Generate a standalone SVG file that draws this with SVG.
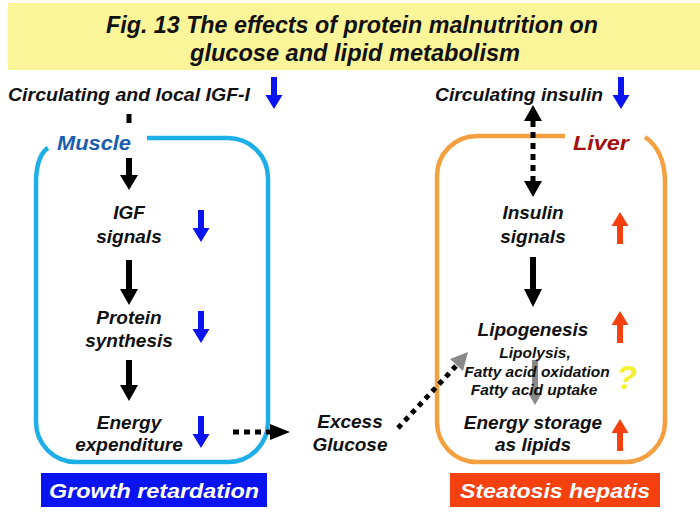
<svg xmlns="http://www.w3.org/2000/svg" xmlns:xlink="http://www.w3.org/1999/xlink" width="700" height="525" viewBox="0 0 700 525">
<style>
text{font-family:"Liberation Sans",Arial,sans-serif;font-weight:bold;font-style:italic;fill:#111;text-anchor:middle}
.t{font-size:19px}
.s{font-size:15.5px}
.title{font-size:24px}
.blue{fill:#0a14f0}
.red{fill:#f5400f}
.blk{fill:#000}
.dot{stroke:#000;stroke-width:5;fill:none;stroke-dasharray:6 5}
</style>
<defs>
<path id="bdown" d="M-3,0 H3 V18 H8.5 L0,32 L-8.5,18 H-3 Z"/>
<path id="rup" d="M-3,32 H3 V14 H8.5 L0,0 L-8.5,14 H-3 Z"/>
</defs>
<rect x="8" y="3" width="692" height="67" fill="#fbf59a"/>
<g id="title">
<text class="title" x="352" y="33" textLength="492" lengthAdjust="spacingAndGlyphs">Fig. 13 The effects of protein malnutrition on</text>
<text class="title" x="355" y="61" textLength="330" lengthAdjust="spacingAndGlyphs">glucose and lipid metabolism</text>
</g>
<g id="muscle-box">
<path d="M147,138 H228 A40,40 0 0 1 268,178 V422 A40,40 0 0 1 228,462 H76 A40,40 0 0 1 36,422 V180 Q37,155 48,148" fill="none" stroke="#1eaee8" stroke-width="4.5"/>
<text x="94" y="150" style="font-size:20px;fill:#1a5eb0" textLength="74" lengthAdjust="spacingAndGlyphs">Muscle</text>
</g>
<g id="liver-box">
<path d="M565,136 H477 A40,40 0 0 0 437,176 V422 A40,40 0 0 0 477,462 H625 A40,40 0 0 0 665,422 V180 Q664,150 645,137" fill="none" stroke="#f5a040" stroke-width="4.5"/>
<text x="601" y="150" style="font-size:20px;fill:#a01010" textLength="56" lengthAdjust="spacingAndGlyphs">Liver</text>
</g>
<g id="igf-circ">
<text class="t" x="129" y="101" textLength="242" lengthAdjust="spacingAndGlyphs">Circulating and local IGF-I</text>
<use xlink:href="#bdown" class="blue" x="274" y="77"/>
</g>
<g id="insulin-circ">
<text class="t" x="519" y="101" textLength="168" lengthAdjust="spacingAndGlyphs">Circulating insulin</text>
<use xlink:href="#bdown" class="blue" x="621" y="77"/>
</g>
<g id="igf-signals">
<text class="t" x="129" y="219">IGF</text>
<text class="t" x="129" y="243">signals</text>
<use xlink:href="#bdown" class="blue" x="201" y="210"/>
</g>
<g id="protein-synthesis">
<text class="t" x="129" y="324">Protein</text>
<text class="t" x="129" y="347">synthesis</text>
<use xlink:href="#bdown" class="blue" x="201" y="311"/>
</g>
<g id="energy-expenditure">
<text class="t" x="129" y="429">Energy</text>
<text class="t" x="129" y="451">expenditure</text>
<use xlink:href="#bdown" class="blue" x="201" y="416"/>
</g>
<g id="excess-glucose">
<text class="t" x="350" y="428">Excess</text>
<text class="t" x="350" y="451">Glucose</text>
</g>
<g id="insulin-signals">
<text class="t" x="533" y="219">Insulin</text>
<text class="t" x="533" y="243">signals</text>
<use xlink:href="#rup" class="red" x="620" y="212"/>
</g>
<g id="lipogenesis">
<text class="t" x="533" y="336">Lipogenesis</text>
<use xlink:href="#rup" class="red" x="620" y="311"/>
</g>
<g id="lipolysis">
<path d="M532,360 H538 V393 H542 L535,405 L528,393 H532 Z" fill="#8a8a8a"/>
<text class="s" x="535" y="358">Lipolysis,</text>
<text class="s" x="537" y="377">Fatty acid oxidation</text>
<text class="s" x="534" y="395">Fatty acid uptake</text>
<text x="627" y="389" style="font-size:34px;fill:#f5f030">?</text>
</g>
<g id="energy-storage">
<text class="t" x="533" y="429">Energy storage</text>
<text class="t" x="533" y="451">as lipids</text>
<use xlink:href="#rup" class="red" x="620" y="419"/>
</g>
<g id="growth-retardation">
<rect x="41" y="473" width="226" height="34" fill="#0a14f0"/>
<text x="154" y="498" style="font-size:21px;fill:#fff" textLength="210" lengthAdjust="spacingAndGlyphs">Growth retardation</text>
</g>
<g id="steatosis-hepatis">
<rect x="450" y="473" width="210" height="34" fill="#f5400f"/>
<text x="555" y="498" style="font-size:21px;fill:#fff" textLength="190" lengthAdjust="spacingAndGlyphs">Steatosis hepatis</text>
</g>
<g id="connectors">
<line x1="129" y1="114" x2="129" y2="123" stroke="#000" stroke-width="5"/>
<path class="blk" d="M126,158 H132 V175 H138 L129,190 L120,175 H126 Z"/>
<path class="blk" d="M126,260 H132 V289 H138 L129,305 L120,289 H126 Z"/>
<path class="blk" d="M126,360 H132 V385 H138 L129,401 L120,385 H126 Z"/>
<line class="dot" x1="233" y1="432" x2="272" y2="432"/>
<path class="blk" d="M270,424 L290,432 L270,440 Z"/>
<path class="blk" d="M530,257 H536 V289 H542 L533,307 L524,289 H530 Z"/>
<line class="dot" x1="533" y1="121" x2="533" y2="182"/>
<path class="blk" d="M533,105 L542,121 L524,121 Z"/>
<path class="blk" d="M533,197 L542,181 L524,181 Z"/>
<line x1="398" y1="428" x2="456" y2="366" stroke="#000" stroke-width="5" stroke-dasharray="5 5"/>
<path d="M468,352 L463,371 L450,359 Z" fill="#8a8a8a"/>
</g>
</svg>
